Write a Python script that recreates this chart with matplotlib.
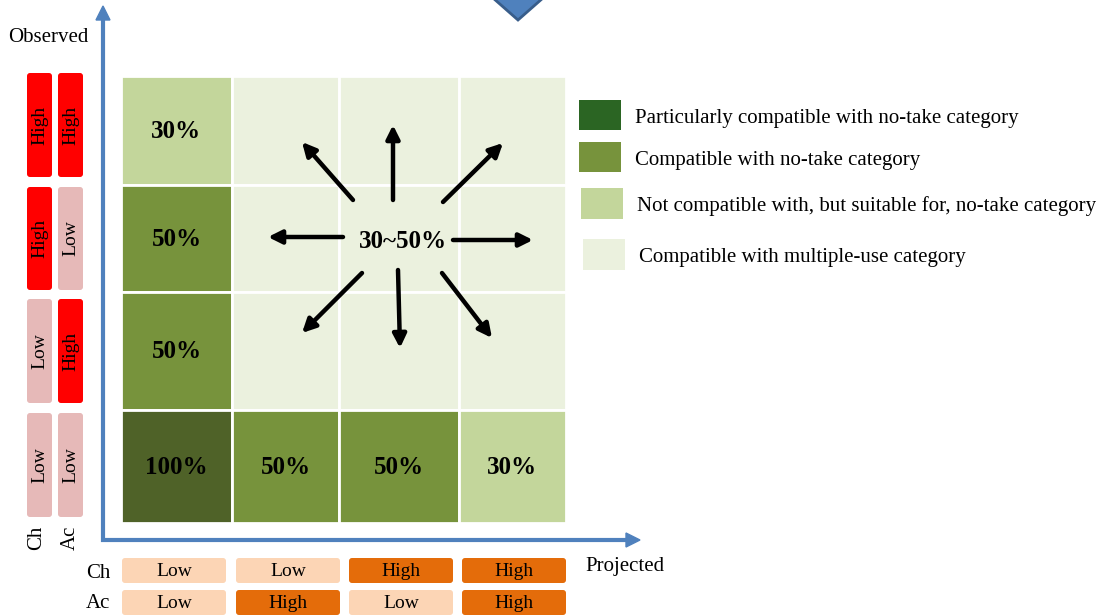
import numpy as np
import matplotlib.pyplot as plt
from matplotlib.patches import Rectangle, FancyBboxPatch, Polygon

plt.rcParams['font.family'] = ['Liberation Serif', 'DejaVu Serif']

# grid content (rows top -> bottom, cols left -> right)
cell_cat = [[2, 3, 3, 3],
            [1, 3, 3, 3],
            [1, 3, 3, 3],
            [0, 1, 1, 2]]
cell_text = [['30%', '', '', ''],
             ['50%', '', '', ''],
             ['50%', '', '', ''],
             ['100%', '50%', '50%', '30%']]
cat_colors = ['#4F6228', '#77933C', '#C3D69B', '#EBF1DE']

legend_labels = ['Particularly compatible with no-take category',
                 'Compatible with no-take category',
                 'Not compatible with, but suitable for, no-take category',
                 'Compatible with multiple-use category']
legend_colors = ['#2B6523', '#77933C', '#C3D69B', '#EBF1DE']

# observed (rows) and projected (cols) levels
obs_ch = ['High', 'High', 'Low', 'Low']
obs_ac = ['High', 'Low', 'High', 'Low']
proj_ch = ['Low', 'Low', 'High', 'High']
proj_ac = ['Low', 'High', 'Low', 'High']

col_edges = [121, 232, 339, 459, 566]
row_edges = [76, 185, 292, 410, 523]

fig = plt.figure(figsize=(11.03, 6.16), dpi=100)
ax = fig.add_axes([0, 0, 1, 1])
ax.set_xlim(0, 1103)
ax.set_ylim(616, 0)
ax.axis('off')

# cells
for i in range(4):
    for j in range(4):
        x0, x1 = col_edges[j], col_edges[j + 1]
        y0, y1 = row_edges[i], row_edges[i + 1]
        ax.add_patch(Rectangle((x0, y0), x1 - x0, y1 - y0,
                               facecolor=cat_colors[cell_cat[i][j]],
                               edgecolor='white', lw=2))
        if cell_text[i][j]:
            ax.text((x0 + x1) / 2, (y0 + y1) / 2 + 1, cell_text[i][j],
                    ha='center', va='center', fontsize=18, fontweight='bold')

# centre label and arrows
ax.text(403, 242, '30~50%', ha='center', va='center', fontsize=18, fontweight='bold')
arrows = [((393, 200), (393, 125)), ((353, 200), (302, 142)), ((443, 202), (503, 143)),
          ((343, 237), (268, 237)), ((453, 240), (533, 240)), ((362, 273), (302, 333)),
          ((398, 270), (400, 348)), ((442, 273), (492, 338))]
for start, end in arrows:
    ax.annotate('', xy=end, xytext=start,
                arrowprops=dict(arrowstyle='-|>', lw=3.2, color='black',
                                mutation_scale=20, shrinkA=0, shrinkB=0))

# axes lines
blue = '#4F81BD'
ax.plot([103, 103, 628], [18, 540, 540], color=blue, lw=3, solid_joinstyle='miter')
ax.add_patch(Polygon([[96, 20], [110, 20], [103, 6]], closed=True, color=blue))
ax.add_patch(Polygon([[626, 533], [626, 547], [640, 540]], closed=True, color=blue))
ax.text(48, 37, 'Observed', ha='center', va='center', fontsize=15)
ax.text(625, 567, 'Projected', ha='center', va='center', fontsize=15)

# top triangle
ax.add_patch(Polygon([[493, -2], [543, -2], [518, 20]], closed=True,
                     facecolor=blue, edgecolor='#385D8A', lw=2))

# observed tags
red, pink = '#FF0000', '#E6B9B8'
tag_rows = [(73, 177), (187, 290), (299, 403), (413, 517)]
for (y0, y1), c, a in zip(tag_rows, obs_ch, obs_ac):
    for x0, lab in [(27, c), (58, a)]:
        ax.add_patch(FancyBboxPatch((x0, y0), 25, y1 - y0,
                                    boxstyle='round,pad=0,rounding_size=3',
                                    facecolor=red if lab == 'High' else pink,
                                    edgecolor='none'))
        ax.text(x0 + 12.5, (y0 + y1) / 2, lab, rotation=90, ha='center',
                va='center', fontsize=14)
ax.text(37, 538, 'Ch', rotation=90, ha='center', va='center', fontsize=15)
ax.text(70, 538, 'Ac', rotation=90, ha='center', va='center', fontsize=15)

# projected tags
peach, orange = '#FCD5B5', '#E46C0A'
tag_cols = [(122, 226), (236, 340), (349, 453), (462, 566)]
for (x0, x1), c, a in zip(tag_cols, proj_ch, proj_ac):
    for y0, lab in [(558, c), (590, a)]:
        ax.add_patch(FancyBboxPatch((x0, y0), x1 - x0, 25,
                                    boxstyle='round,pad=0,rounding_size=3',
                                    facecolor=orange if lab == 'High' else peach,
                                    edgecolor='none'))
        ax.text((x0 + x1) / 2, y0 + 14, lab, ha='center', va='center', fontsize=14)
ax.text(98, 574, 'Ch', ha='center', va='center', fontsize=15)
ax.text(98, 603, 'Ac', ha='center', va='center', fontsize=15)

# legend
leg_y = [(100, 130), (142, 172), (188, 219), (239, 270)]
leg_x = [579, 579, 581, 583]
for (y0, y1), x0, lab, col in zip(leg_y, leg_x, legend_labels, legend_colors):
    ax.add_patch(Rectangle((x0, y0), 42, y1 - y0, facecolor=col, edgecolor='none'))
    ax.text(x0 + 56, (y0 + y1) / 2 + 3, lab, ha='left', va='center', fontsize=15)

fig.savefig('out.png', dpi=100)
